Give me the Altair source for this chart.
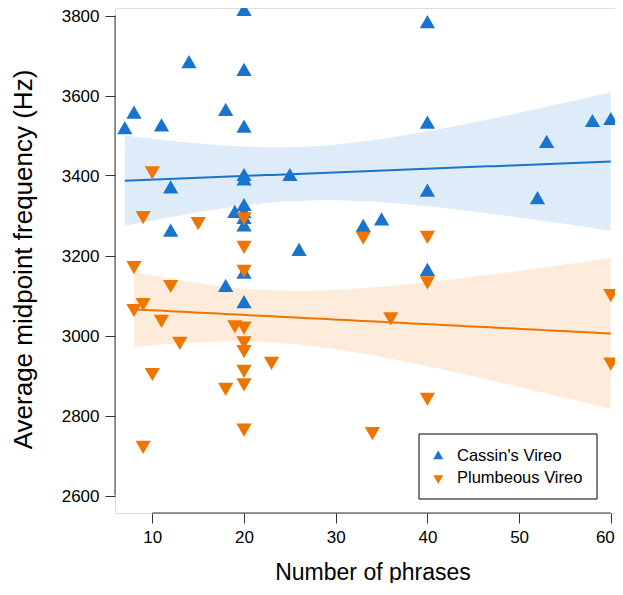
import altair as alt
import numpy as np
import pandas as pd

# ---- data ----
species = ["Cassin's Vireo", "Plumbeous Vireo"]
colors = ["#1874CD", "#EE7600"]

cassin_phrases = [7, 8, 11, 12, 12, 14, 18, 18, 19, 20, 20, 20, 20, 20, 20, 20, 20,
                  20, 20, 20, 25, 26, 33, 35, 40, 40, 40, 40, 52, 53, 58, 60]
cassin_freq = [3514, 3553, 3521, 3366, 3258, 3679, 3560, 3120, 3305, 3810, 3660, 3518,
               3397, 3386, 3322, 3304, 3290, 3271, 3153, 3079, 3397, 3210, 3270, 3286,
               3779, 3528, 3358, 3160, 3339, 3480, 3532, 3537]

plumb_phrases = [8, 8, 9, 9, 9, 10, 10, 11, 12, 13, 15, 18, 19, 20, 20, 20, 20, 20,
                 20, 20, 20, 20, 23, 33, 34, 36, 40, 40, 40, 60, 60]
plumb_freq = [3175, 3068, 3300, 3083, 2726, 3412, 2908, 3041, 3128, 2986, 3285, 2871,
              3027, 3297, 3226, 3166, 3024, 2987, 2965, 2916, 2882, 2769, 2936, 3249,
              2760, 3047, 3251, 3137, 2846, 3105, 2934]

x_ticks = [10, 20, 30, 40, 50, 60]
y_ticks = [2600, 2800, 3000, 3200, 3400, 3600, 3800]

FONT = "Liberation Sans"
AXIS_COL = "#333333"

points = pd.concat([
    pd.DataFrame({"phrases": cassin_phrases, "freq": cassin_freq, "species": species[0]}),
    pd.DataFrame({"phrases": plumb_phrases, "freq": plumb_freq, "species": species[1]}),
], ignore_index=True)


def t975(df):
    z = 1.959964
    return z + (z**3 + z) / (4 * df) + (5 * z**5 + 16 * z**3 + 3 * z) / (96 * df**2)


def ols_band(xs, ys, name, steps=80):
    x = np.asarray(xs, float)
    y = np.asarray(ys, float)
    n = len(x)
    b1, b0 = np.polyfit(x, y, 1)
    resid = y - (b0 + b1 * x)
    s = np.sqrt(np.sum(resid ** 2) / (n - 2))
    sxx = np.sum((x - x.mean()) ** 2)
    g = np.linspace(x.min(), x.max(), steps)
    fit = b0 + b1 * g
    se = s * np.sqrt(1.0 / n + (g - x.mean()) ** 2 / sxx)
    t = t975(n - 2)
    return pd.DataFrame({"phrases": g, "fit": fit, "lo": fit - t * se,
                         "hi": fit + t * se, "species": name})


bands = pd.concat([ols_band(cassin_phrases, cassin_freq, species[0]),
                   ols_band(plumb_phrases, plumb_freq, species[1])], ignore_index=True)

PX_PER_X = 9.17
W, H = 500, 505
X0 = 5.93
xscale = alt.Scale(domain=[X0, X0 + W / PX_PER_X], nice=False, zero=False)
yscale = alt.Scale(domain=[2556.25, 3818.75], nice=False, zero=False)
cscale = alt.Scale(domain=species, range=colors)
up = "M0,-1L0.866,0.5L-0.866,0.5Z"
down = "M0,1L0.866,-0.5L-0.866,-0.5Z"
sscale = alt.Scale(domain=species, range=[up, down])

xaxis = alt.Axis(values=x_ticks, format="d", domain=False, grid=False, tickSize=10,
                 tickColor=AXIS_COL, labelFontSize=17, labelPadding=6,
                 labelColor="black", labelFont=FONT,
                 labelFlush=6, labelFlushOffset=3.5,
                 title="Number of phrases", titleFontSize=23, titleFont=FONT,
                 titleFontWeight="normal", titleColor="black",
                 titleX=257.5, titleY=66, titleBaseline="alphabetic")
yaxis = alt.Axis(values=y_ticks, format="d", domain=False, grid=False, tickSize=10,
                 tickColor=AXIS_COL, labelFontSize=17, labelPadding=6,
                 labelColor="black", labelFont=FONT, labelOffset=1,
                 title="Average midpoint frequency (Hz)", titleFontSize=26,
                 titleFont=FONT, titleFontWeight="normal", titleColor="black",
                 titleX=-84, titleY=251, titleBaseline="alphabetic",
                 titleAlign="center", titleAngle=270)

band_layer = alt.Chart(bands).mark_area(opacity=0.14).encode(
    x=alt.X("phrases:Q", scale=xscale, axis=xaxis),
    y=alt.Y("lo:Q", scale=yscale, axis=yaxis),
    y2="hi:Q",
    color=alt.Color("species:N", scale=cscale, legend=None),
)

line_layer = alt.Chart(bands).mark_line(strokeWidth=2).encode(
    x=alt.X("phrases:Q", scale=xscale),
    y=alt.Y("fit:Q", scale=yscale),
    color=alt.Color("species:N", scale=cscale, legend=None),
)

# legend frame (decoration)
frame = alt.Chart(pd.DataFrame({"box": [0]})).mark_rect(
    fill="white", stroke="black", strokeWidth=1).encode(
    x=alt.value(304), x2=alt.value(482), y=alt.value(426), y2=alt.value(491))

legend = alt.Legend(title=None, orient="none", legendX=315, legendY=440,
                    labelFontSize=16.5, labelFont=FONT, labelColor="black",
                    symbolSize=133, symbolStrokeWidth=0, padding=0,
                    rowPadding=5, labelOffset=10.5)

point_layer = alt.Chart(points).mark_point(filled=True, size=310, opacity=1,
                                           strokeWidth=0).encode(
    x=alt.X("phrases:Q", scale=xscale),
    y=alt.Y("freq:Q", scale=yscale),
    color=alt.Color("species:N", scale=cscale, legend=legend),
    shape=alt.Shape("species:N", scale=sscale, legend=legend),
)

yline = alt.Chart(pd.DataFrame({"lo": [y_ticks[0]], "hi": [y_ticks[-1]]})).mark_rule(
    color=AXIS_COL, strokeWidth=1).encode(
    x=alt.value(0), y=alt.Y("lo:Q", scale=yscale), y2="hi:Q")
xline = alt.Chart(pd.DataFrame({"lo": [x_ticks[0]], "hi": [x_ticks[-1]]})).mark_rule(
    color=AXIS_COL, strokeWidth=1).encode(
    y=alt.value(H), x=alt.X("lo:Q", scale=xscale), x2="hi:Q")

chart = alt.layer(band_layer, line_layer, frame, point_layer, yline, xline).resolve_scale(
    color="independent", shape="independent"
).properties(
    width=W, height=H,
    autosize=alt.AutoSizeParams(type="none"),
    padding={"left": 107, "top": 0, "right": 0, "bottom": 70},
).configure_view(stroke=None).configure(font=FONT)

chart.save("out.html", embed_options={"renderer": "svg", "actions": False})
